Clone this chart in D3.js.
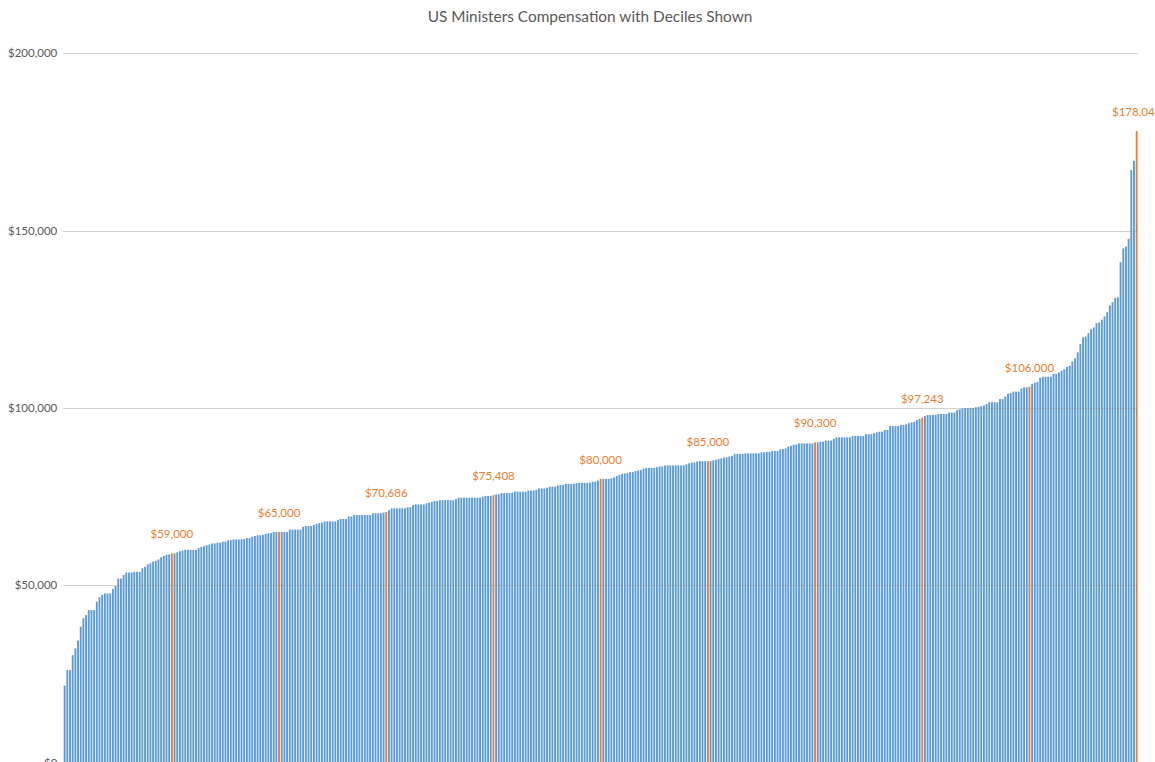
<!DOCTYPE html>
<html>
<head>
<meta charset="utf-8">
<script src="https://cdn.jsdelivr.net/npm/d3@7"></script>
<style>
  html, body { margin: 0; padding: 0; background: #fff; }
  svg { display: block; }
  text { font-family: Lato, "Open Sans", sans-serif; }
</style>
</head>
<body>
<svg id="chart" width="1155" height="762"></svg>
<script>
// ---- Data ----
const title = "US Ministers Compensation with Deciles Shown";
const yTicks = [0, 50000, 100000, 150000, 200000];
const decileIndex = [40, 80, 120, 160, 200, 240, 280, 320, 360, 400];
// 401 ministers, sorted ascending (USD)
const compensation = [
  21700, 26100, 26100, 30300, 32200, 34400, 38300, 40700, 41600, 43000,
  43000, 43000, 45400, 46600, 47300, 47700, 47700, 47700, 48900, 49800,
  51900, 51900, 52900, 53600, 53600, 53600, 53800, 53800, 53800, 54800,
  55200, 55900, 56200, 56700, 56900, 57300, 57900, 58300, 58600, 58700,
  59000, 59000, 59300, 59600, 59800, 60000, 60000, 60000, 60000, 60000,
  60500, 60800, 61000, 61300, 61500, 61800, 61800, 62000, 62000, 62300,
  62300, 62700, 62700, 62900, 62900, 62900, 63000, 63000, 63300, 63300,
  63700, 63900, 64100, 64100, 64200, 64500, 64700, 64700, 65000, 65000,
  65000, 65000, 65000, 65000, 65700, 65700, 65700, 65700, 65700, 66500,
  66700, 66700, 66700, 67000, 67300, 67500, 67700, 68000, 68000, 68000,
  68000, 68000, 68400, 68700, 68700, 68700, 69400, 69400, 69800, 69800,
  69800, 69800, 69800, 69800, 69800, 70300, 70300, 70300, 70300, 70500,
  70686, 71200, 71700, 71700, 71700, 71700, 71700, 71700, 72000, 72000,
  72600, 72800, 72800, 72800, 72800, 73100, 73300, 73500, 73800, 73800,
  74000, 74000, 74000, 74000, 74000, 74000, 74300, 74700, 74700, 74700,
  74700, 74700, 74700, 74700, 74700, 74700, 75000, 75200, 75200, 75200,
  75408, 75600, 75600, 76000, 76000, 76000, 76000, 76100, 76400, 76400,
  76400, 76400, 76400, 76700, 76700, 76700, 76900, 77300, 77300, 77300,
  77500, 77800, 77800, 77800, 78100, 78300, 78300, 78600, 78600, 78600,
  78600, 78800, 78900, 78900, 78900, 78900, 78900, 79200, 79200, 79500,
  80000, 80000, 80000, 80000, 80200, 80400, 80800, 81100, 81400, 81500,
  81700, 81900, 81900, 82200, 82400, 82500, 82900, 83100, 83100, 83100,
  83100, 83300, 83500, 83500, 83800, 83800, 83800, 83800, 83800, 83800,
  83800, 83800, 84100, 84400, 84600, 84600, 84900, 85000, 85000, 85000,
  85000, 85000, 85200, 85400, 85600, 85800, 86000, 86100, 86300, 86500,
  87000, 87000, 87000, 87000, 87200, 87200, 87200, 87200, 87200, 87200,
  87500, 87500, 87600, 87600, 87900, 87900, 87900, 88300, 88400, 88600,
  89100, 89300, 89600, 89700, 90000, 90000, 90000, 90000, 90000, 90000,
  90300, 90300, 90500, 90500, 90800, 90800, 90800, 91300, 91700, 91700,
  91700, 91700, 91700, 91700, 92100, 92100, 92100, 92100, 92100, 92600,
  92600, 92600, 92900, 93100, 93300, 93300, 93800, 93800, 94900, 94900,
  94900, 94900, 95200, 95200, 95400, 95700, 95900, 96100, 96600, 96900,
  97243, 97700, 98000, 98000, 98000, 98000, 98300, 98300, 98300, 98300,
  98700, 98700, 98700, 99400, 99600, 99900, 100000, 100000, 100000, 100000,
  100200, 100300, 100500, 100700, 101100, 101600, 101600, 101600, 101600, 102500,
  102500, 103200, 104000, 104200, 104600, 104600, 104600, 105500, 105800, 105800,
  106000, 106800, 107100, 107300, 108500, 108800, 108800, 108800, 108800, 109600,
  109600, 110000, 110500, 110900, 111600, 111900, 113100, 114000, 115700, 118000,
  119900, 120100, 121100, 122200, 122700, 123900, 124100, 124900, 125800, 127000,
  128900, 129800, 131000, 131200, 141100, 145000, 145500, 147700, 167100, 169700,
  178040
];

// ---- Chart ----
const svg = d3.select("#chart");
const blue = "#5B9BD5", orange = "#ED7D31", textGray = "#595959";
const plotLeft = 63.3, plotRight = 1138;

const x = d3.scaleBand()
  .domain(d3.range(compensation.length))
  .range([plotLeft, plotRight])
  .paddingInner(0.3)
  .paddingOuter(0.15);

const y = d3.scaleLinear().domain([0, 200000]).range([762.6, 53.3]);

const isDecile = new Set(decileIndex);

// bars
svg.append("g").selectAll("rect")
  .data(compensation)
  .join("rect")
  .attr("x", (d, i) => x(i))
  .attr("width", x.bandwidth())
  .attr("y", d => y(d))
  .attr("height", d => y(0) - y(d))
  .attr("fill", (d, i) => isDecile.has(i) ? orange : blue);

// gridlines (drawn over bars, semi-transparent)
svg.append("g").selectAll("line")
  .data(yTicks)
  .join("line")
  .attr("x1", plotLeft).attr("x2", plotRight)
  .attr("y1", d => Math.round(y(d)) + 0.5)
  .attr("y2", d => Math.round(y(d)) + 0.5)
  .attr("stroke", "rgb(150,150,150)")
  .attr("stroke-opacity", 0.45)
  .attr("stroke-width", 1);

// y axis labels
const yAxis = d3.axisLeft(y).tickValues(yTicks).tickFormat(d3.format("$,")).tickSize(0).tickPadding(6);
const gy = svg.append("g").attr("transform", `translate(${plotLeft},0)`).call(yAxis);
gy.select(".domain").remove();
gy.selectAll("text")
  .attr("fill", textGray)
  .style("font-size", "11.5px")
  .style("font-family", "Lato, sans-serif");

// decile labels
svg.append("g").selectAll("text")
  .data(decileIndex)
  .join("text")
  .attr("x", i => x(i) + x.bandwidth() / 2)
  .attr("y", i => y(compensation[i]) - 15)
  .attr("text-anchor", "middle")
  .attr("fill", orange)
  .style("font-size", "11.5px")
  .text(i => d3.format("$,")(compensation[i]));

// title
svg.append("text")
  .attr("x", 590)
  .attr("y", 22)
  .attr("text-anchor", "middle")
  .attr("fill", textGray)
  .style("font-size", "15.4px")
  .text(title);
</script>
</body>
</html>
